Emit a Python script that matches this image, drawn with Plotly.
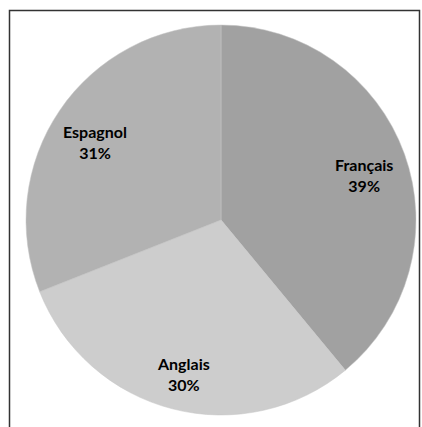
import math
import plotly.graph_objects as go

labels = ["Français", "Anglais", "Espagnol"]
values = [39, 30, 31]
colors = ["#a1a1a1", "#cdcdcd", "#b2b2b2"]

W, H = 422, 427
cx, cy, r = 221, 220, 195
label_frac = 0.78

dom_x = [(cx - r) / W, (cx + r) / W]
dom_y = [(H - cy - r) / H, (H - cy + r) / H]

fig = go.Figure(go.Pie(
    labels=labels,
    values=values,
    sort=False,
    direction="clockwise",
    rotation=0,
    marker=dict(colors=colors, line=dict(color="#c4c4c4", width=0.5)),
    textinfo="none",
    showlegend=False,
    hoverinfo="label+percent",
    domain=dict(x=dom_x, y=dom_y),
))

total = sum(values)
annotations = []
cum = 0
for lab, v in zip(labels, values):
    mid = (cum + v / 2) / total * 2 * math.pi
    cum += v
    px = cx + label_frac * r * math.sin(mid)
    py = cy - label_frac * r * math.cos(mid)
    pct = round(v / total * 100)
    annotations.append(dict(
        x=px / W, y=1 - py / H, xref="paper", yref="paper",
        text=f"<b>{lab}</b><br><b>{pct}%</b>", showarrow=False,
        xanchor="center", yanchor="middle", align="center", yshift=-7,
        font=dict(family="Lato, Open Sans, sans-serif", size=16, color="#000000"),
    ))

fig.update_layout(
    width=W, height=H,
    margin=dict(l=0, r=0, t=0, b=0),
    paper_bgcolor="#ffffff",
    annotations=annotations,
    shapes=[dict(type="rect", xref="paper", yref="paper",
                 x0=9.5 / W, x1=419.5 / W, y0=-0.05, y1=1 - 10.5 / H,
                 line=dict(color="#333333", width=1.5), fillcolor="rgba(0,0,0,0)",
                 layer="above")],
)

fig.write_html("out.html", config={"displayModeBar": False},
               post_script="document.body.style.margin='0';document.body.style.padding='0';document.body.style.overflow='hidden';")
